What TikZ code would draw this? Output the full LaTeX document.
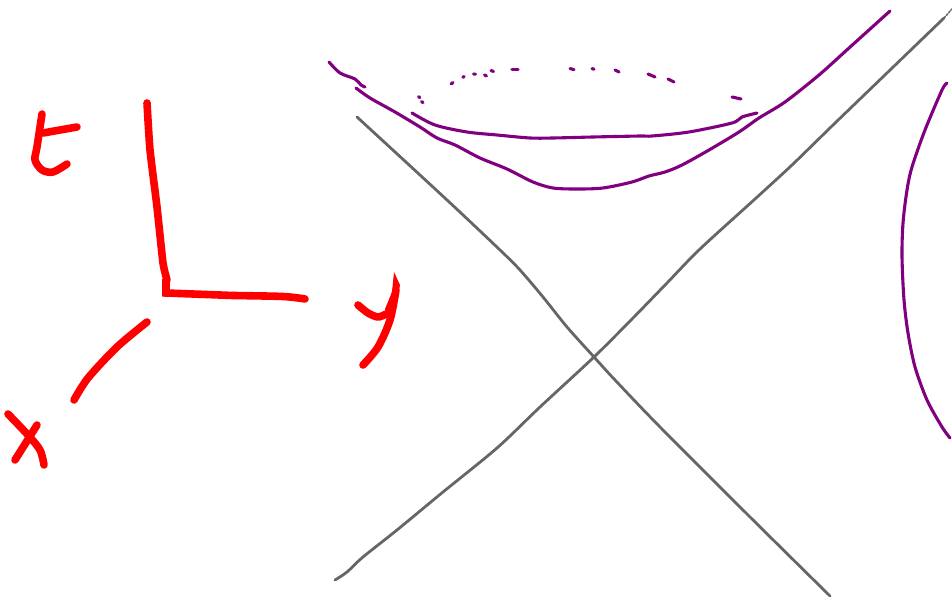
\documentclass[tikz,border=0pt]{standalone}
\definecolor{inkred}{RGB}{255,0,0}
\definecolor{inkpurple}{RGB}{128,0,128}
\definecolor{inkgray}{RGB}{102,102,102}
\tikzset{
  redink/.style={draw=inkred,line width=7.6pt,line cap=round,line join=round},
  purpleink/.style={draw=inkpurple,line width=3.1pt,line cap=round,line join=round},
  grayink/.style={draw=inkgray,line width=2.8pt,line cap=round,line join=round},
  curvy/.style={smooth,tension=0.5}
}
\begin{document}
\begin{tikzpicture}[x=1pt,y=-1pt]
\useasboundingbox (0,0) rectangle (952,601);
\clip (0,0) rectangle (952,601);
% gray hyperbola asymptotes
\draw[grayink] plot[curvy] coordinates {(357,117) (447,200) (500,250) (520,270) (543,297) (567,327) (594,357) (615,380) (660,427) (750,517) (830,596)};
\draw[grayink] plot[curvy] coordinates {(335,580) (347,572) (363,557) (397,530) (443,492) (497,448) (540,407) (594,357) (633,318) (667,283) (700,249) (755,199) (792,165) (832,126) (888,72) (944,18)};
\draw[grayink,line width=1.6pt,dash pattern=on 2pt off 1.5pt] (944,18) -- (952,9);
% purple curves
\draw[purpleink] plot[curvy] coordinates {(329,62) (340,73) (355,79) (361,85) (365,87)};
\draw[purpleink] plot[curvy] coordinates {(356,88) (370,98) (395,112) (420,127) (437,138) (455,145) (480,158) (507,169) (533,182) (553,188) (577,189) (603,188) (632,182) (649,176) (665,172) (682,165) (709,150) (739,132) (759,118) (785,102) (819,75) (849,48) (890,11)};
\draw[purpleink] plot[curvy] coordinates {(412,113) (435,125) (467,132) (497,135) (530,138) (553,138) (593,137) (640,136) (652,136) (689,132) (732,123) (742,117) (757,113)};
\draw[purpleink] plot[curvy] coordinates {(947,83) (942,90) (925,130) (912,167) (907,190) (903,223) (902,257) (904,300) (908,333) (915,367) (927,400) (942,427) (950,438)};
% dotted back of the circle
\foreach \a/\b/\c/\d in {418.5/96.7/419.8/97.6, 421.5/101.6/423/102.6, 451/84/453/82.5, 462.8/77.3/464.2/76.5, 473.5/74/475.5/74.2, 484.5/75/486.5/75.9, 491/70.5/493.5/71.5, 512/69.5/518/69.5, 570/68.5/574/69.7, 592/68.5/594/69.3, 615/70/619/72, 648/74/655/77, 668/79/674/82, 732/97/741/99}
  \draw[purpleink] (\a,\b) -- (\c,\d);
% red axes
\draw[redink] plot[smooth,tension=0.3] coordinates {(147,103) (150,150) (157,207) (163,263) (167,280)};
\draw[redink,line cap=butt,line join=miter] (166,279) -- (166,293) -- (233,295.5);
\draw[redink] plot[curvy] coordinates {(233,295.5) (283,296.5) (305,299)};
\draw[redink] plot[curvy] coordinates {(147,322) (117,347) (88,378) (74,400)};
% hand-written t
\draw[redink] plot[curvy] coordinates {(42,114) (37,147) (35,160) (42,170) (53,172) (67,164)};
\draw[redink] (43,133) -- (77,127);
% hand-written x
\draw[redink] plot[curvy] coordinates {(8,414) (28,435) (40,450) (44,465)};
\draw[redink] (37,425) -- (15,460);
% hand-written y
\draw[redink] plot[curvy] coordinates {(358,305) (368,313) (378,317) (386,314)};
\draw[redink] plot[curvy] coordinates {(396,290) (390,320) (378,347) (363,365)};
\fill[inkred] (394,272) -- (400,285) -- (396,308) -- (386,314) -- (385,309) -- (392,292) -- cycle;
\end{tikzpicture}
\end{document}
